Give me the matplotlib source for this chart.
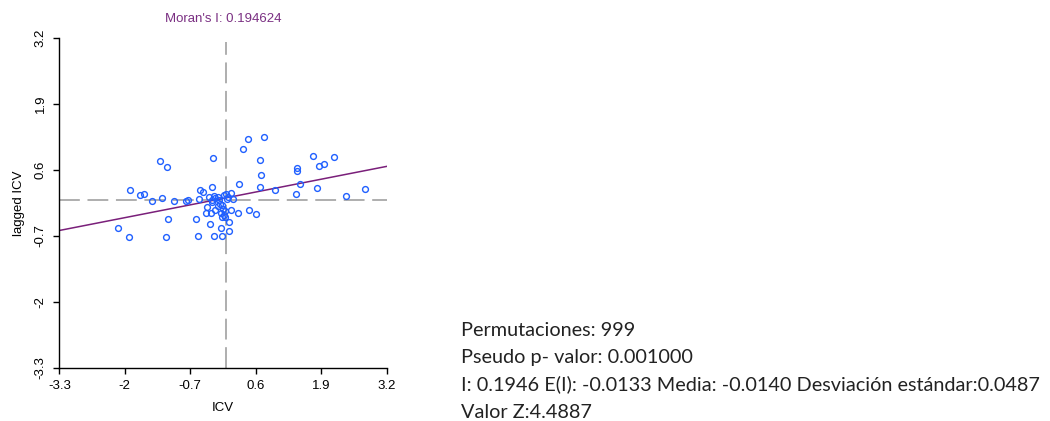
import matplotlib.pyplot as plt
import numpy as np

plt.rcParams['font.family'] = ['Liberation Sans', 'DejaVu Sans']
plt.rcParams['lines.scale_dashes'] = False

# standardized ICV and its spatial lag
icv = [-2.14, -1.91, -1.89, -1.69, -1.61, -1.46, -1.31, -1.26, -1.16, -1.14,
       -1.18, -1.03, -0.78, -0.75, -0.58, -0.55, -0.51, -0.45, -0.27, -0.25,
       0.26, 0.35, 0.44, 0.76, 0.68, 0.71, 0.68, 0.99, 1.41, 1.41,
       1.39, 1.47, 1.74, 1.86, 1.95, 2.15, 1.82, 2.40, 2.76, 0.46,
       0.61, 0.25, 0.10, 0.06, 0.06, -0.10, -0.23, -0.08, -0.31, -0.52,
       -0.32, -0.23, -0.15, -0.04, 0.01, 0.11, -0.27, -0.20, 0.04, 0.15,
       -0.36, -0.39, -0.27, -0.15, -0.11, -0.07, -0.10, -0.04, -0.08, -0.02,
       -0.29, -0.21, -0.06, -0.12, -0.02, 0.02]
lagged_icv = [-0.55, -0.73, 0.20, 0.10, 0.13, -0.02, 0.78, 0.05, 0.66, -0.37,
              -0.73, -0.02, -0.02, 0.01, -0.37, -0.70, 0.21, 0.17, 0.26, 0.83,
              0.33, 1.01, 1.21, 1.26, 0.80, 0.51, 0.26, 0.21, 0.64, 0.58,
              0.13, 0.33, 0.88, 0.68, 0.71, 0.86, 0.25, 0.08, 0.23, -0.19,
              -0.27, -0.24, -0.19, -0.42, -0.60, -0.55, -0.70, -0.71, -0.47, 0.02,
              0.07, 0.09, 0.06, 0.11, 0.13, 0.15, 0.01, 0.04, 0.06, 0.02,
              -0.13, -0.24, -0.04, -0.11, -0.06, -0.09, -0.24, -0.29, -0.33, -0.32,
              -0.25, -0.19, -0.17, 0.00, -0.20, 0.03]

ticks = [-3.3, -2, -0.7, 0.6, 1.9, 3.2]
tick_labels = ['-3.3', '-2', '-0.7', '0.6', '1.9', '3.2']
moran_i = 0.194624
intercept = 0.05

stats_lines = ['Permutaciones: 999',
               'Pseudo p- valor: 0.001000',
               'I: 0.1946 E(I): -0.0133 Media: -0.0140 Desviación estándar:0.0487',
               'Valor Z:4.4887']

fig = plt.figure(figsize=(10.5, 4.21), dpi=100)
ax = fig.add_axes([0.0565, 0.1266, 0.3118, 0.7824])

ax.axhline(0, color='#999999', lw=1.1, dashes=(15, 5.5))
ax.axvline(0, ymax=0.99, color='#999999', lw=1.1, dashes=(15, 5.5))

xs = np.array([-3.3, 3.2])
ax.plot(xs, intercept + moran_i * xs, color='#7a1f7a', lw=1.1)

ax.plot(icv, lagged_icv, 'o', mfc='none', mec='#2060ff', ms=4.2, mew=1.0)

ax.set_xlim(-3.3, 3.2)
ax.set_ylim(-3.3, 3.2)
ax.spines['top'].set_visible(False)
ax.spines['right'].set_visible(False)
ax.spines['left'].set_linewidth(1.0)
ax.spines['bottom'].set_linewidth(1.0)

ax.set_xticks(ticks)
ax.set_xticklabels(tick_labels)
ax.set_yticks(ticks)
ax.set_yticklabels(tick_labels, rotation=90, va='center')
ax.tick_params(length=4, width=1, labelsize=9.5, pad=5)

ax.set_xlabel('ICV', fontsize=9.5, labelpad=7)
ax.set_ylabel('lagged ICV', fontsize=9.5, labelpad=7)
ax.set_title("Moran's I: 0.194624", fontsize=9.5, color='#7a2f82', pad=12)

for i, line in enumerate(stats_lines):
    fig.text(461 / 1050, 1 - (335.5 + 27.5 * i) / 421, line,
             fontsize=14.3, family=['Lato', 'DejaVu Sans'], color='#222222',
             va='baseline', ha='left')

plt.savefig('out.png', dpi=100)
